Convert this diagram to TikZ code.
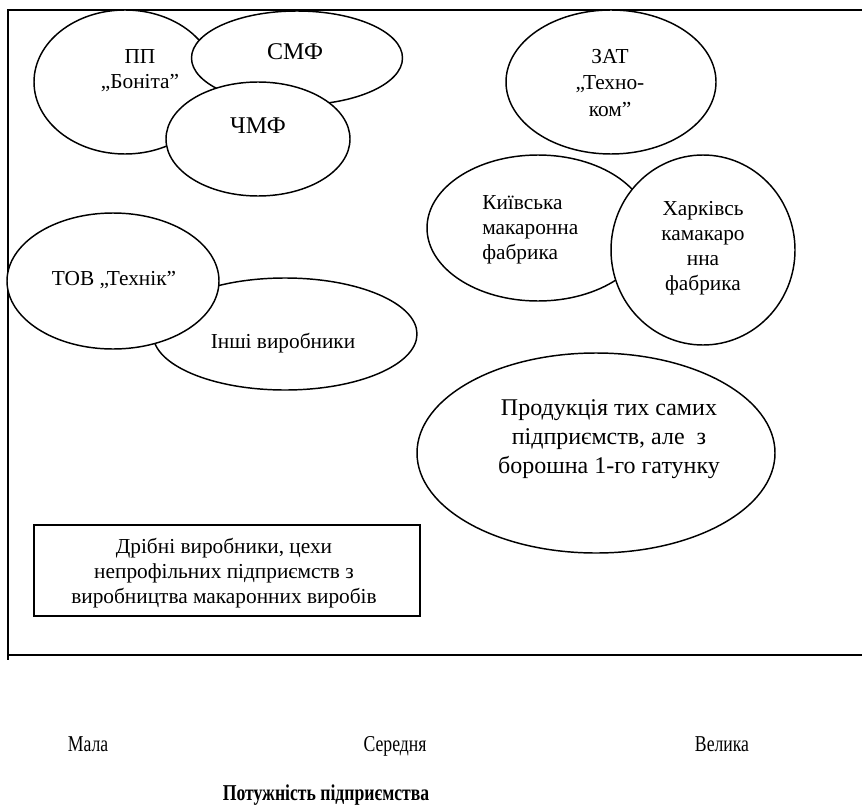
\documentclass[tikz,border=0pt]{standalone}
\usepackage{fontspec}
\setmainfont{Liberation Serif}
\newfontfamily\narrowfont{Liberation Serif}[FakeStretch=0.78]
\usetikzlibrary{shapes.geometric}
\tikzset{
  ell/.style 2 args={ellipse, draw, fill=white, line width=1.1pt, inner sep=0pt,
    minimum width=#1*0.75pt, minimum height=#2*0.75pt},
  txt/.style={align=center, inner sep=0pt, font=\fontsize{16}{18.75}\selectfont},
  bigtxt/.style={align=center, inner sep=0pt, font=\fontsize{18}{20}\selectfont},
  prodtxt/.style={align=center, inner sep=0pt, font=\fontsize{18}{21.75}\selectfont},
  axislbl/.style={inner sep=0pt, anchor=base, font=\narrowfont\fontsize{17}{20}\selectfont},
  frame/.style={line width=1.3pt},
}
\begin{document}
\begin{tikzpicture}[x=0.75pt, y=-0.75pt]
\useasboundingbox (0,0) rectangle (862,806);
% frame
\coordinate (tl) at (8,10);
\coordinate (tr) at (862,10);
\coordinate (bl) at (8,660);
\coordinate (bll) at (8,655);
\coordinate (br) at (862,655);
\draw[frame] (tr) -- (tl) -- (bl);
\draw[frame] (bll) -- (br);
% top-left cluster
\node[ell={182}{144}] (bon) at (125,82) {};
\node[txt] (bontxt) at (140,71) {ПП\\,,Боніта''};
\node[ell={211}{94}] (smf) at (297,58) {};
\node[bigtxt] (smftxt) at (295,52) {СМФ};
\node[ell={184}{114}] (chmf) at (258,139) {};
\node[bigtxt] (chmftxt) at (258,126) {ЧМФ};
% ZAT
\node[ell={210}{144}] (zat) at (611,82) {};
\node[txt, font=\fontsize{16}{19.9}\selectfont] (zattxt) at (610,83) {ЗАТ\\,,Техно-\\ком''};
% Kyiv / Kharkiv
\node[ell={222}{146}] (kyiv) at (538,228) {};
\node[txt, align=left, anchor=west] (kyivtxt) at (482,230) {Київська\\макаронна\\фабрика};
\node[ell={184}{190}] (khar) at (703,250) {};
\node[txt] (khartxt) at (703,248) {Харківсь\\камакаро\\нна\\фабрика};
% TOV / Inshi
\node[ell={264}{112}] (inshi) at (285,334) {};
\node[txt] (inshitxt) at (283,343) {Інші виробники};
\node[ell={212}{136}] (tov) at (113,281) {};
\node[txt] (tovtxt) at (114,280) {ТОВ ,,Технік''};
% production
\node[ell={358}{200}] (prod) at (596,453) {};
\node[prodtxt] (prodtxt) at (609,439) {Продукція тих самих\\підприємств, але\ \ з\\борошна 1-го гатунку};
% rectangle
\node[draw, line width=1.2pt, minimum width=386*0.75pt, minimum height=91*0.75pt, inner sep=0pt] (small) at (227,570.5) {};
\node[txt] (smalltxt) at (224,573) {Дрібні виробники, цехи\\непрофільних підприємств з\\виробництва макаронних виробів};
% axis labels
\node[axislbl] (mala) at (88,751) {Мала};
\node[axislbl] (ser) at (395,751) {Середня};
\node[axislbl] (vel) at (722,751) {Велика};
\node[axislbl, font=\narrowfont\bfseries\fontsize{17}{20}\selectfont] (pot) at (326,800) {Потужність підприємства};
\end{tikzpicture}
\end{document}
